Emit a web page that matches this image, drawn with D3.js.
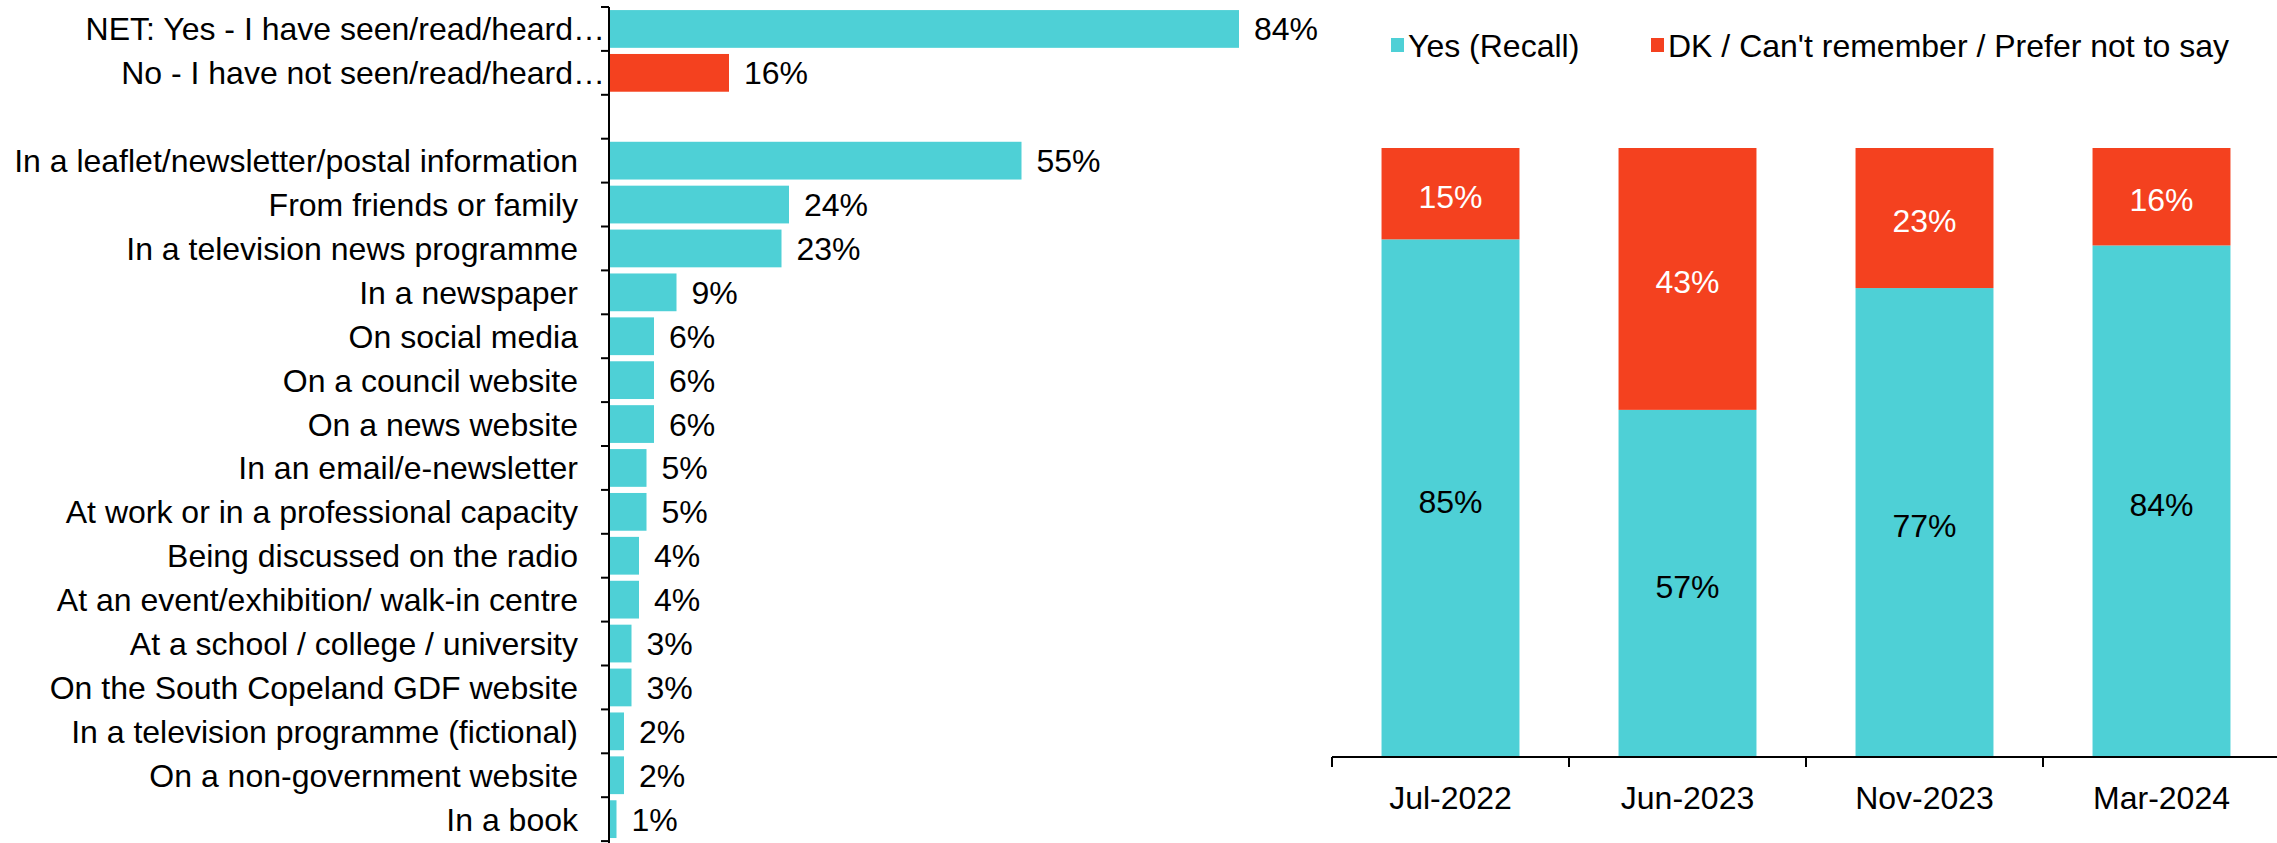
<!DOCTYPE html>
<html>
<head>
<meta charset="utf-8">
<script src="https://cdn.jsdelivr.net/npm/d3@7"></script>
<style>
  html, body { margin: 0; padding: 0; background: #fff; }
  svg { display: block; }
  text { font-family: "Liberation Sans", Arial, sans-serif; fill: #000; }
</style>
</head>
<body>
<svg id="chart" width="2277" height="843"></svg>
<script>
// ---- Data ----
const sourceLabels = [
  "NET: Yes - I have seen/read/heard…",
  "No - I have not seen/read/heard…",
  "",
  "In a leaflet/newsletter/postal information",
  "From friends or family",
  "In a television news programme",
  "In a newspaper",
  "On social media",
  "On a council website",
  "On a news website",
  "In an email/e-newsletter",
  "At work or in a professional capacity",
  "Being discussed on the radio",
  "At an event/exhibition/ walk-in centre",
  "At a school / college / university",
  "On the South Copeland GDF website",
  "In a television programme (fictional)",
  "On a non-government website",
  "In a book"
];
const sourceValues = [84, 16, null, 55, 24, 23, 9, 6, 6, 6, 5, 5, 4, 4, 3, 3, 2, 2, 1];
const sourceSeries = ["yes", "no", null, "yes", "yes", "yes", "yes", "yes", "yes", "yes", "yes", "yes", "yes", "yes", "yes", "yes", "yes", "yes", "yes"];

const waves = ["Jul-2022", "Jun-2023", "Nov-2023", "Mar-2024"];
const yesRecall = [85, 57, 77, 84];
const dkRecall = [15, 43, 23, 16];
const legendLabels = ["Yes (Recall)", "DK / Can't remember / Prefer not to say"];

const colors = { yes: "#4ED0D6", no: "#F4411F" };
const fontSize = 32;

const svg = d3.select("#chart");

// ---- Left: horizontal bar chart ----
const axisX = 609;
const x = d3.scaleLinear().domain([0, 100]).range([axisX, axisX + 750]);
const yTop = 7, yStep = 43.9;
const y = d3.scaleBand()
  .domain(d3.range(sourceLabels.length))
  .range([yTop, yTop + yStep * sourceLabels.length])
  .paddingInner(0.14)
  .paddingOuter(0.07);

const left = svg.append("g");
const rows = sourceValues.map((v, i) => ({ v, i })).filter(d => d.v != null);

left.selectAll("rect.bar")
  .data(rows)
  .join("rect")
  .attr("class", "bar")
  .attr("x", x(0))
  .attr("y", d => y(d.i))
  .attr("width", d => x(d.v) - x(0))
  .attr("height", y.bandwidth())
  .attr("fill", d => colors[sourceSeries[d.i]]);

left.selectAll("text.val")
  .data(rows)
  .join("text")
  .attr("class", "val")
  .attr("x", d => x(d.v) + 15)
  .attr("y", d => y(d.i) + y.bandwidth() / 2)
  .attr("dy", "0.36em")
  .attr("font-size", fontSize)
  .text(d => d.v + "%");

left.selectAll("text.lab")
  .data(sourceLabels.map((l, i) => ({ l, i })))
  .join("text")
  .attr("class", "lab")
  .attr("x", d => d.l.endsWith("…") ? axisX - 4 : axisX - 31)
  .attr("y", d => y(d.i) + y.bandwidth() / 2)
  .attr("dy", "0.36em")
  .attr("text-anchor", "end")
  .attr("font-size", fontSize)
  .text(d => d.l);

// axis line and ticks at band boundaries
left.append("line")
  .attr("x1", axisX).attr("x2", axisX)
  .attr("y1", yTop).attr("y2", 843)
  .attr("stroke", "#000").attr("stroke-width", 2);
left.selectAll("line.tick")
  .data(d3.range(sourceLabels.length + 1))
  .join("line")
  .attr("class", "tick")
  .attr("x1", axisX - 8).attr("x2", axisX)
  .attr("y1", i => yTop + i * y.step())
  .attr("y2", i => yTop + i * y.step())
  .attr("stroke", "#000").attr("stroke-width", 2);

// ---- Right: stacked columns ----
const bx = d3.scaleBand().domain(waves).range([1332, 2280]).paddingInner(0.418).paddingOuter(0.209);
const by = d3.scaleLinear().domain([0, 100]).range([757, 148]);

const right = svg.append("g");
const stackData = waves.map((w, i) => ({ wave: w, yes: yesRecall[i], no: dkRecall[i] }));
const stacked = d3.stack().keys(["yes", "no"])(stackData);

right.selectAll("g.layer")
  .data(stacked)
  .join("g")
  .attr("class", "layer")
  .attr("fill", s => colors[s.key])
  .selectAll("rect")
  .data(s => s)
  .join("rect")
  .attr("x", d => bx(d.data.wave))
  .attr("y", d => by(d[1]))
  .attr("width", bx.bandwidth())
  .attr("height", d => by(d[0]) - by(d[1]));

stacked.forEach(s => {
  right.selectAll("text.seg-" + s.key)
    .data(s)
    .join("text")
    .attr("class", "seg-" + s.key)
    .attr("x", d => bx(d.data.wave) + bx.bandwidth() / 2)
    .attr("y", d => (by(d[0]) + by(d[1])) / 2)
    .attr("dy", "0.45em")
    .attr("text-anchor", "middle")
    .attr("font-size", fontSize)
    .style("fill", s.key === "no" ? "#fff" : "#000")
    .text(d => (d[1] - d[0]) + "%");
});

const xg = right.append("g").attr("transform", "translate(0,757)");
xg.append("line").attr("x1", 1332).attr("x2", 2280).attr("y1", 0).attr("y2", 0)
  .attr("stroke", "#000").attr("stroke-width", 2);
xg.selectAll("line.btick")
  .data(d3.range(waves.length + 1))
  .join("line")
  .attr("class", "btick")
  .attr("x1", i => 1332 + i * bx.step())
  .attr("x2", i => 1332 + i * bx.step())
  .attr("y1", 0).attr("y2", 10)
  .attr("stroke", "#000").attr("stroke-width", 2);
xg.selectAll("text.cat")
  .data(waves)
  .join("text")
  .attr("class", "cat")
  .attr("x", w => bx(w) + bx.bandwidth() / 2)
  .attr("y", 40)
  .attr("dy", "0.38em")
  .attr("text-anchor", "middle")
  .attr("font-size", fontSize)
  .text(w => w);

// legend
const legendX = [1391, 1651];
const legendKeys = ["yes", "no"];
const lg = right.selectAll("g.leg")
  .data(legendLabels.map((l, i) => ({ l, k: legendKeys[i], x: legendX[i] })))
  .join("g")
  .attr("class", "leg")
  .attr("transform", d => `translate(${d.x},45)`);
lg.append("rect").attr("x", 0).attr("y", -7).attr("width", 13).attr("height", 14).attr("fill", d => colors[d.k]);
lg.append("text").attr("x", 17).attr("y", 0).attr("dy", "0.38em").attr("font-size", fontSize).text(d => d.l);
</script>
</body>
</html>
